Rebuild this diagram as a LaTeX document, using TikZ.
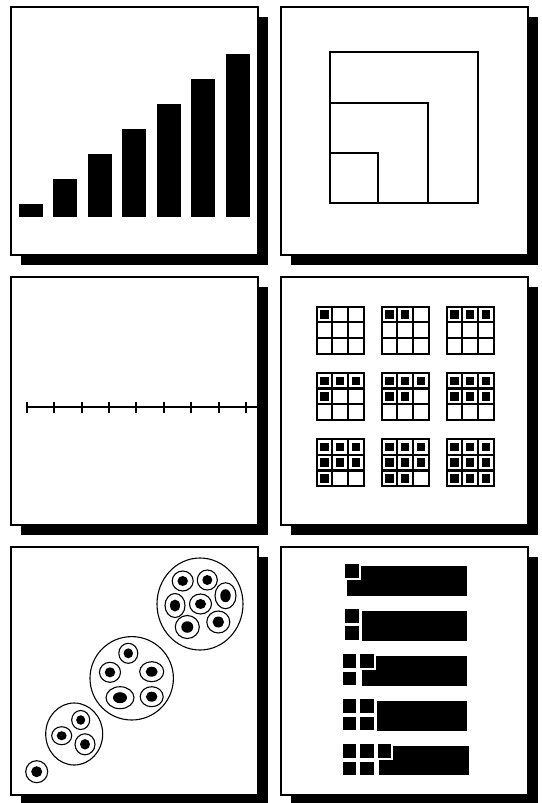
\documentclass[tikz,border=0pt]{standalone}
\begin{document}
\begin{tikzpicture}[x=1pt,y=-1pt,
  panel/.style={draw=black, fill=white, line width=2.2pt},
  thinline/.style={draw=black, line width=2pt},
  tickline/.style={draw=black, line width=2pt},
  gridline/.style={draw=black, line width=2.2pt},
  ring/.style={draw=black, line width=1.1pt},
  sqbox/.style={fill=black, draw=white, line width=2pt}]
\useasboundingbox (0,0) rectangle (541,803);
\fill[white] (0,0) rectangle (541,803);

% panels with drop shadows
\foreach \x in {11,281} \foreach \y in {7,277,547} {
  \fill[black] (\x+10,\y+10) rectangle (\x+257,\y+258);
  \draw[panel] (\x,\y) rectangle (\x+247,\y+248);
}

% panel 1: growing bars
\foreach \i in {0,...,6}
  \fill[black] (18.5+34.5*\i,216.7) rectangle (42.5+34.5*\i,204.3-25*\i);

% panel 2: nested squares
\draw[thinline] (330,52.3) rectangle (478.3,202.7);
\draw[thinline] (330,103.3) rectangle (427.7,202.7);
\draw[thinline] (330,153.3) rectangle (377.7,202.7);

% panel 3: number line with ticks
\draw[tickline] (26.7,407.3) -- (258,407.3);
\foreach \i in {0,...,8}
  \draw[tickline] (26.7+27.4*\i,401.5) -- ++(0,11.5);

% panel 4: 3x3 grids, filling one cell more each time
\foreach \k in {0,...,8} {
  \pgfmathtruncatemacro\gr{div(\k,3)}
  \pgfmathtruncatemacro\gc{mod(\k,3)}
  \pgfmathsetmacro\gx{316.7+65*\gc}
  \pgfmathsetmacro\gy{306.7+66.2*\gr}
  \foreach \j in {1,2} {
    \draw[gridline] (\gx+15.667*\j,\gy) -- ++(0,47);
    \draw[gridline] (\gx,\gy+15.667*\j) -- ++(47,0);
  }
  \draw[gridline] (\gx,\gy) rectangle ++(47,47);
  \foreach \m in {0,...,\k} {
    \pgfmathtruncatemacro\mr{div(\m,3)}
    \pgfmathtruncatemacro\mc{mod(\m,3)}
    \fill[black] (\gx+15.667*\mc+3.6,\gy+15.667*\mr+3.6) rectangle ++(8.5,8.5);
  }
}

% panel 5: clusters of circles
\draw[ring] (200,604) ellipse [x radius=43, y radius=46];
\draw[ring] (131.7,678.3) circle [radius=41.7];
\draw[ring] (74.2,734) ellipse [x radius=28.5, y radius=31];
\foreach \cx/\cy/\rx/\ry in {
  182.7/581/10.5/10, 207.3/580/10/10, 225.5/595.7/10.5/13, 175/605.5/10/12,
  200.5/604/11/10, 187.3/627/12/11.5, 218.3/622/11.5/11,
  128.3/653.3/9.5/10, 110/672.3/10.5/10, 151.7/671.7/12/10,
  120/697.7/14/11, 151.7/696.7/11.5/10,
  80.7/720/9/9.5, 61.7/735.7/10/9, 85/744.3/10/10.5,
  36.7/771.7/11/11} {
  \draw[ring] (\cx,\cy) ellipse [x radius=\rx, y radius=\ry];
  \fill[black] (\cx,\cy) ellipse [x radius=0.5*\rx, y radius=0.5*\ry];
}

% panel 6: bars with unit squares
\fill[black] (346.7,566) rectangle (466.7,596);
\filldraw[sqbox] (344,563.3) rectangle ++(15.5,15.5);

\fill[black] (362.3,611) rectangle (466.7,641);
\filldraw[sqbox] (344,608.3) rectangle ++(15.5,15.5);
\filldraw[sqbox] (344,625.3) rectangle ++(15.5,15.5);

\fill[black] (362.3,656) rectangle (466.7,685.7);
\filldraw[sqbox] (341.7,653.3) rectangle ++(15.5,15.5);
\filldraw[sqbox] (359,653.3) rectangle ++(15.5,15.5);
\filldraw[sqbox] (341.7,670.5) rectangle ++(15.5,15.5);

\fill[black] (376.7,700.7) rectangle (466.7,730.7);
\filldraw[sqbox] (341.7,698.3) rectangle ++(15.5,15.5);
\filldraw[sqbox] (359,698.3) rectangle ++(15.5,15.5);
\filldraw[sqbox] (341.7,715.5) rectangle ++(15.5,15.5);
\filldraw[sqbox] (359,715.5) rectangle ++(15.5,15.5);

\fill[black] (379.3,745.7) rectangle (469,775);
\filldraw[sqbox] (341.7,743.3) rectangle ++(15.5,15.5);
\filldraw[sqbox] (359,743.3) rectangle ++(15.5,15.5);
\filldraw[sqbox] (376.7,743.3) rectangle ++(15.5,15.5);
\filldraw[sqbox] (341.7,760.5) rectangle ++(15.5,15.5);
\filldraw[sqbox] (359,760.5) rectangle ++(15.5,15.5);
\end{tikzpicture}
\end{document}
